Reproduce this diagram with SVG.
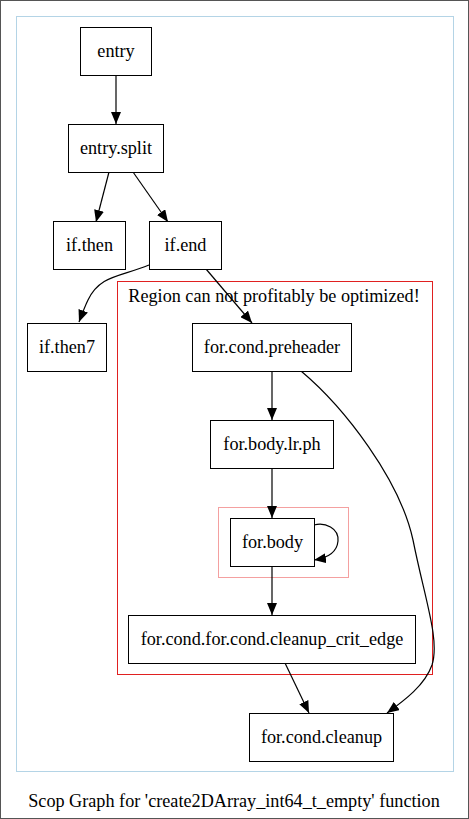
<svg xmlns="http://www.w3.org/2000/svg" width="469" height="819" viewBox="0 0 469 819">
<style>
.n rect{fill:#fff;stroke:#000;stroke-width:1}
text{font-family:'Liberation Serif','DejaVu Serif',serif;font-size:18.2px;fill:#000;text-anchor:middle}
.e path{fill:none;stroke:#000;stroke-width:1.2}
</style>
<defs>
<marker id="ah" markerUnits="userSpaceOnUse" markerWidth="12" markerHeight="10" refX="12" refY="5" orient="auto">
<path d="M0,0 L12,5 L0,10 z" fill="#000"/>
</marker>
</defs>
<rect x="0.5" y="0.5" width="468" height="818" fill="#fff" stroke="#555"/>
<g id="cluster_outer"><rect x="16.5" y="16.5" width="437" height="755" fill="none" stroke="#b4d4e6"/></g>
<g id="cluster_region"><rect x="117.5" y="281.5" width="315" height="393" fill="none" stroke="#e02020"/>
<text x="274" y="302">Region can not profitably be optimized!</text></g>
<g id="cluster_loop"><rect x="218.5" y="507.5" width="130" height="70" fill="none" stroke="#f4a0a0"/></g>
<g class="e" id="edges">
<path d="M116,75 L116,124" marker-end="url(#ah)"/>
<path d="M109,172 L96,222" marker-end="url(#ah)"/>
<path d="M133,172 L168,222" marker-end="url(#ah)"/>
<path d="M149,265 C120,277 100,275 88,300 C85,306 82,314 79,322" marker-end="url(#ah)"/>
<path d="M206,269 L252,323" marker-end="url(#ah)"/>
<path d="M272,371 L272,420" marker-end="url(#ah)"/>
<path d="M272,468 L272,518" marker-end="url(#ah)"/>
<path d="M314,525 C325,522 339,528 338,541 C337,552 328,558 314,560" marker-end="url(#ah)"/>
<path d="M272,566 L272,615" marker-end="url(#ah)"/>
<path d="M285,663 L309,713" marker-end="url(#ah)"/>
<path d="M301,371 C345,408 400,480 413,540 C425,600 440,640 432,665 C425,685 405,700 387,713" marker-end="url(#ah)"/>
</g>
<g class="n" id="entry"><rect x="80.5" y="27.5" width="71" height="48"/><text x="116" y="57">entry</text></g>
<g class="n" id="entry.split"><rect x="68.5" y="124.5" width="95" height="48"/><text x="116" y="154">entry.split</text></g>
<g class="n" id="if.then"><rect x="53.5" y="221.5" width="72" height="48"/><text x="89.5" y="251">if.then</text></g>
<g class="n" id="if.end"><rect x="149.5" y="221.5" width="72" height="48"/><text x="185.5" y="251">if.end</text></g>
<g class="n" id="if.then7"><rect x="27.5" y="323.5" width="79" height="48"/><text x="67" y="353">if.then7</text></g>
<g class="n" id="for.cond.preheader"><rect x="192.5" y="323.5" width="159" height="48"/><text x="272" y="353">for.cond.preheader</text></g>
<g class="n" id="for.body.lr.ph"><rect x="210.5" y="420.5" width="123" height="48"/><text x="272" y="450">for.body.lr.ph</text></g>
<g class="n" id="for.body"><rect x="230.5" y="518.5" width="84" height="48"/><text x="272.5" y="548">for.body</text></g>
<g class="n" id="for.cond.for.cond.cleanup_crit_edge"><rect x="128.5" y="615.5" width="287" height="48"/><text x="272" y="645">for.cond.for.cond.cleanup_crit_edge</text></g>
<g class="n" id="for.cond.cleanup"><rect x="249.5" y="713.5" width="144" height="48"/><text x="321.5" y="743">for.cond.cleanup</text></g>
<text x="234" y="807">Scop Graph for 'create2DArray_int64_t_empty' function</text>
</svg>
